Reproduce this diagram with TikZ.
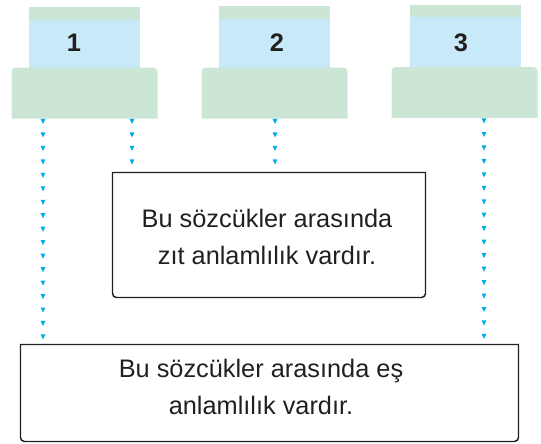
\documentclass[tikz,border=0pt]{standalone}
\usepackage{fontspec}
\setmainfont{Liberation Sans}
\usetikzlibrary{decorations.markings}

\definecolor{capgreen}{RGB}{204,230,213}
\definecolor{capblue}{RGB}{199,233,248}
\definecolor{dotblue}{RGB}{0,172,236}
\definecolor{inkgray}{RGB}{35,31,32}

\tikzset{every picture/.style={line width=0.75pt}}
\tikzset{
  base/.style={inner sep=0pt, minimum width=108.75pt, minimum height=37.5pt},
  digit/.style={inner sep=0pt, text=inkgray, font=\fontsize{19}{23}\bfseries},
  framebox/.style={inner sep=0pt},
  boxline/.style={draw=inkgray, line width=1.1pt},
  boxtext/.style={inner sep=0pt, align=center, text=inkgray, font=\fontsize{19}{27.5}\selectfont},
  dotchain/.style={decoration={markings,
      mark=between positions 2.25pt and 1 step 10.1pt with
      {\fill[dotblue] (1.9pt,0) -- (-1.9pt,1.8pt) -- (-1.9pt,-1.8pt) -- cycle;}},
    postaction={decorate}}
}

\begin{document}
\begin{tikzpicture}[x=0.75pt,y=0.75pt,yscale=-1,xscale=1]
\useasboundingbox (0,0) rectangle (541,443);

%Shape: Rectangle [card 1]
\fill[capgreen] (29,7) rectangle (140,20);
\fill[capblue] (29,20) rectangle (140,68);
\node[base] (base1) at (84.5,93) {};
\fill[capgreen] (base1.south west) {[rounded corners=3pt] -- (base1.north west) -- (base1.north east)} -- (base1.south east) -- cycle;
%Shape: Rectangle [card 2]
\fill[capgreen] (219,6) rectangle (330,19);
\fill[capblue] (219,19) rectangle (330,68);
\node[base] (base2) at (274.5,93) {};
\fill[capgreen] (base2.south west) {[rounded corners=3pt] -- (base2.north west) -- (base2.north east)} -- (base2.south east) -- cycle;
%Shape: Rectangle [card 3]
\fill[capgreen] (410,5) rectangle (521,17);
\fill[capblue] (410,17) rectangle (521,67);
\node[base] (base3) at (464.5,92.5) {};
\fill[capgreen] (base3.south west) {[rounded corners=3pt] -- (base3.north west) -- (base3.north east)} -- (base3.south east) -- cycle;

% Text Node
\node[digit] (n1) at (74,42.5) {1};
% Text Node
\node[digit] (n2) at (277,42.5) {2};
% Text Node
\node[digit] (n3) at (461,42.5) {3};

%Shape: Box [zit]
\node[framebox, minimum width=234pt, minimum height=93pt] (zit) at (269,235) {};
%Shape: Box [es]
\node[framebox, minimum width=372.75pt, minimum height=72pt] (es) at (269.5,393) {};

%Dotted arrows
\coordinate (c1) at (43,0);
\coordinate (c2) at (132,0);
\coordinate (c3) at (275,0);
\coordinate (c4) at (484,0);
\path[dotchain] (c1 |- base1.south) -- (c1 |- es.north);
\path[dotchain] (c2 |- base1.south) -- (c2 |- zit.north);
\path[dotchain] (c3 |- base2.south) -- (c3 |- zit.north);
\path[dotchain] (c4 |- base3.south) -- (c4 |- es.north);

\draw[boxline] (zit.north west) -- (zit.north east) {[rounded corners=3pt] -- (zit.south east) -- (zit.south west)} -- cycle;
\draw[boxline] (es.north west) -- (es.north east) {[rounded corners=3pt] -- (es.south east) -- (es.south west)} -- cycle;

% Text Node
\node[boxtext] (zittext) at (267,237) {Bu sözcükler arasında\\zıt anlamlılık vardır.};
% Text Node
\node[boxtext] (estext) at (261,387) {Bu sözcükler arasında eş\\anlamlılık vardır.};

\end{tikzpicture}
\end{document}
